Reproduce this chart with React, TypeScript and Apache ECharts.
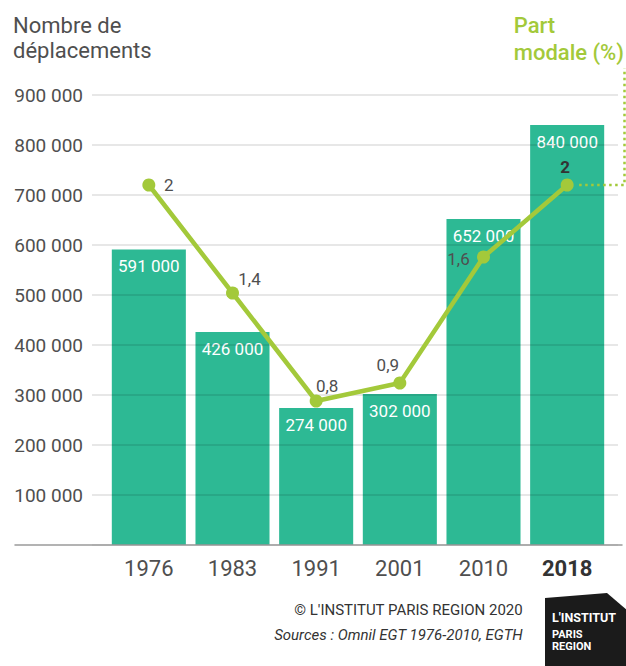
import React, { useEffect, useRef } from "react";
import * as echarts from "echarts";

const years = ["1976", "1983", "1991", "2001", "2010", "2018"];
const trips = [591000, 426000, 274000, 302000, 652000, 840000];
const modalShare = [2, 1.4, 0.8, 0.9, 1.6, 2];
const highlightYear = "2018";

const TEAL = "#2db994";
const GREEN = "#a3c93a";
const TEXT = "#4f4f4f";
const FONT = "Roboto";

const fmtThousands = (v: number) =>
  String(v).replace(/\B(?=(\d{3})+(?!\d))/g, " ");
const fmtPct = (v: number) => String(v).replace(".", ",");

// label offsets (styling only)
const lineLabelOffsets: [number, number][] = [
  [20, 0],
  [17, -14],
  [11, -15],
  [-12, -18],
  [-25, 2],
  [-2, -18],
];

export default function App() {
  const ref = useRef<HTMLDivElement>(null);

  useEffect(() => {
    if (!ref.current) return;
    const chart = echarts.init(ref.current, null, { renderer: "svg" });

    const gridTop = 95;
    const gridBottom = 121;

    const baseGraphics = (p?: number[]) => {
      const g: any[] = [
        {
          id: "title",
          type: "text",
          left: 13,
          top: 13,
          style: {
            text: "Nombre de\ndéplacements",
            font: `22px ${FONT}`,
            fill: TEXT,
            lineHeight: 25,
          },
        },
        {
          id: "pm",
          type: "text",
          right: 2,
          top: 12,
          style: {
            text: "Part\nmodale (%)",
            font: `500 22px ${FONT}`,
            fill: GREEN,
            lineHeight: 27,
            align: "right",
          },
        },
        {
          id: "copy",
          type: "text",
          right: 103,
          top: 602,
          style: {
            text: "© L'INSTITUT PARIS REGION 2020",
            font: `15px ${FONT}`,
            fill: "#333",
            align: "right",
          },
        },
        {
          id: "src",
          type: "text",
          right: 103,
          top: 627,
          style: {
            text: "Sources : Omnil EGT 1976-2010, EGTH",
            font: `italic 15px ${FONT}`,
            fill: "#333",
            align: "right",
          },
        },
        {
          id: "logo",
          type: "polygon",
          shape: {
            points: [
              [545, 598],
              [607, 593],
              [627, 610],
              [627, 666],
              [545, 666],
            ],
          },
          style: { fill: "#1b1b1b" },
        },
        {
          id: "logo1",
          type: "text",
          x: 552,
          y: 611,
          style: {
            text: "L'INSTITUT",
            font: `bold 12.5px ${FONT}`,
            fill: "#fff",
          },
        },
        {
          id: "logo2",
          type: "text",
          x: 552,
          y: 628,
          style: {
            text: "PARIS\nREGION",
            font: `bold 11px ${FONT}`,
            fill: "#fff",
            lineHeight: 12,
          },
        },
      ];
      if (p) {
        g.push({
          id: "dots",
          type: "polyline",
          z: 10,
          shape: {
            points: [
              [p[0] + 12, p[1]],
              [624.5, p[1]],
              [624.5, 68],
            ],
          },
          style: {
            stroke: GREEN,
            lineWidth: 2.5,
            lineDash: [2.5, 3.5],
            fill: null,
          },
        });
      }
      return g;
    };

    chart.setOption({
      animation: false,
      backgroundColor: "#fff",
      grid: [
        { left: 15, right: 4, top: gridTop, bottom: gridBottom },
        { left: 92, right: 8, top: gridTop, bottom: gridBottom },
        { left: 107, right: 17, top: gridTop, bottom: gridBottom },
      ],
      xAxis: [
        {
          gridIndex: 0,
          type: "value",
          min: 0,
          max: 1,
          axisLabel: { show: false },
          axisTick: { show: false },
          splitLine: { show: false },
          axisLine: { show: true, lineStyle: { color: "#9a9a9a", width: 1.5 } },
          z: 4,
        },
        {
          gridIndex: 1,
          type: "value",
          min: 0,
          max: 1,
          show: false,
        },
        {
          gridIndex: 2,
          type: "category",
          data: years.map((y) =>
            y === highlightYear
              ? { value: y, textStyle: { fontWeight: "bold", color: "#333" } }
              : y
          ),
          axisLine: { show: false },
          axisTick: { show: false },
          axisLabel: {
            fontSize: 22,
            fontFamily: FONT,
            color: TEXT,
            margin: 12,
          },
        },
      ],
      yAxis: [
        { gridIndex: 0, type: "value", min: 0, max: 900000, show: false },
        {
          gridIndex: 1,
          type: "value",
          min: 0,
          max: 900000,
          interval: 100000,
          z: 3,
          axisLine: { show: false },
          axisTick: { show: false },
          axisLabel: {
            fontSize: 19,
            fontFamily: FONT,
            color: TEXT,
            margin: 9,
            formatter: (v: number) => (v === 0 ? "" : fmtThousands(v)),
          },
          splitLine: {
            show: true,
            lineStyle: { color: "rgba(0,0,0,0.13)", width: 1.5 },
          },
        },
        { gridIndex: 2, type: "value", min: 0, max: 900000, show: false },
        { gridIndex: 2, type: "value", min: 0, max: 2.5, show: false },
      ],
      series: [
        {
          type: "bar",
          xAxisIndex: 2,
          yAxisIndex: 2,
          data: trips,
          barCategoryGap: "11.5%",
          itemStyle: { color: TEAL },
          z: 2,
          label: {
            show: true,
            position: "insideTop",
            distance: 8,
            color: "#fff",
            fontSize: 17,
            fontFamily: FONT,
            formatter: (p: any) => fmtThousands(p.value),
          },
        },
        {
          type: "line",
          xAxisIndex: 2,
          yAxisIndex: 3,
          z: 5,
          data: modalShare.map((v, i) => ({
            value: v,
            label: {
              offset: lineLabelOffsets[i],
              fontWeight: years[i] === highlightYear ? "bold" : "normal",
              color: years[i] === highlightYear ? "#333" : TEXT,
            },
          })),
          symbol: "circle",
          symbolSize: 13,
          lineStyle: { color: GREEN, width: 4.5 },
          itemStyle: { color: GREEN },
          label: {
            show: true,
            position: "inside",
            fontSize: 17,
            fontFamily: FONT,
            color: TEXT,
            formatter: (p: any) => fmtPct(p.value),
          },
        },
      ],
      graphic: baseGraphics(),
    });

    const p = chart.convertToPixel(
      { seriesIndex: 1 },
      [modalShare.length - 1, modalShare[modalShare.length - 1]]
    ) as number[];
    chart.setOption({ graphic: baseGraphics(p) });

    return () => chart.dispose();
  }, []);

  return (
    <div
      ref={ref}
      style={{ position: "fixed", left: 0, top: 0, width: 626, height: 666 }}
    />
  );
}
